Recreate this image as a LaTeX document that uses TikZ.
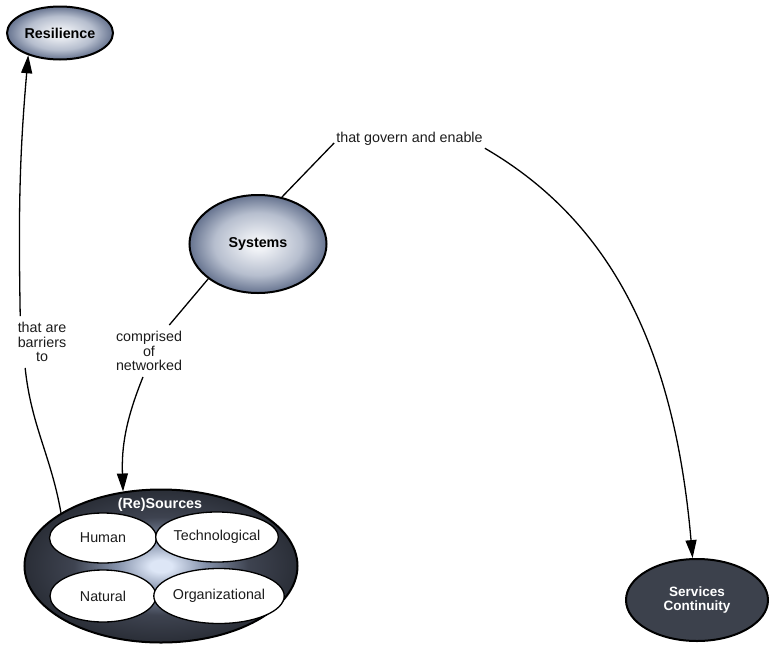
\documentclass[tikz,border=0pt]{standalone}
\usepackage{fontspec}
\setmainfont{Liberation Sans}
\usetikzlibrary{shapes.geometric,arrows.meta}

% colours of the concept bubbles
\definecolor{glowC}{HTML}{F0F2F6}
\definecolor{glowM}{HTML}{B6BECE}
\definecolor{glowE}{HTML}{66738F}
\definecolor{poolC}{HTML}{DDE6F6}
\definecolor{poolM}{HTML}{8592AB}
\definecolor{poolD}{HTML}{3E4350}
\definecolor{poolE}{HTML}{2A2E37}
\definecolor{slate}{HTML}{3C414C}
\definecolor{ink}{HTML}{1C1C1C}

% radial glows; on a path the 25bp circle meets the border
\pgfdeclareradialshading{blueglow}{\pgfpoint{0bp}{0bp}}{%
  color(0bp)=(glowC); color(3bp)=(glowC); color(16bp)=(glowM); color(25bp)=(glowE); color(50bp)=(glowE)}
\pgfdeclareradialshading{darkpool}{\pgfpoint{0bp}{0bp}}{%
  color(0bp)=(poolC); color(2bp)=(poolC); color(8bp)=(poolM); color(16bp)=(poolD); color(25bp)=(poolE); color(50bp)=(poolE)}

\begin{document}
\begin{tikzpicture}[x=1pt,y=1pt,
  concept/.style={ellipse, draw=black, line width=2pt, inner sep=0pt,
    font=\fontsize{14.3}{14.5}\selectfont\bfseries, text=black, align=center},
  part/.style={ellipse, draw=black, line width=1.3pt, fill=white, inner sep=0pt,
    font=\fontsize{14.3}{14.5}\selectfont, text=ink},
  linklabel/.style={fill=white, inner xsep=2pt, inner ysep=6pt, align=center,
    font=\fontsize{14.3}{14.5}\selectfont, text=ink},
  conn/.style={draw=black, line width=1.3pt},
  arr/.style={conn, -{Triangle[length=18pt,width=11pt]}}]

\useasboundingbox (0,0) rectangle (774,-646);

% concepts
\node[concept, shading=blueglow, minimum width=106pt, minimum height=53pt] (res) at (60,-33) {Resilience};
\node[concept, shading=blueglow, minimum width=137pt, minimum height=98pt] (sys) at (258,-244) {Systems};
\node[concept, fill=slate, text=white, minimum width=142pt, minimum height=82pt,
  font=\fontsize{13.5}{13.5}\selectfont\bfseries] (svc) at (697,-600) {Services\\Continuity};

% the pool of resources with its four kinds
\node[concept, shading=darkpool, minimum width=273pt, minimum height=153pt] (src) at (161,-566) {};
\node[font=\fontsize{14.3}{14.5}\selectfont\bfseries, text=white, inner sep=0pt] (srcname) at (160,-505) {(Re)Sources};
\node[part, minimum width=107pt, minimum height=50pt] (hum) at (103,-538) {Human};
\node[part, minimum width=120pt, minimum height=50pt] (tec) at (217,-537) {Technological};
\node[part, minimum width=106pt, minimum height=52pt] (nat) at (103,-596) {Natural};
\node[part, minimum width=125pt, minimum height=55pt] (org) at (219,-596) {Organizational};

% linking phrases
\node[linklabel] (bar) at (42,-342) {that are\\barriers\\to};
\node[linklabel] (comp) at (149,-351) {comprised\\of\\networked};
\node[linklabel] (gov) at (409.5,-139) {that govern and enable};

% connectors
\draw[conn] (src.152) to[out=100,in=-84] (bar.237);
\draw[arr] (bar.130) to[out=91,in=-95] (res.215);

\draw[conn] (sys.215) -- (comp.52);
\draw[arr] (comp.257) to[out=-112,in=92] (src.117);

\draw[conn] (sys.63) -- (gov.183);
\draw[arr] (gov.-7) .. controls (617,-225) and (675,-357) .. (svc.96);
\end{tikzpicture}
\end{document}
